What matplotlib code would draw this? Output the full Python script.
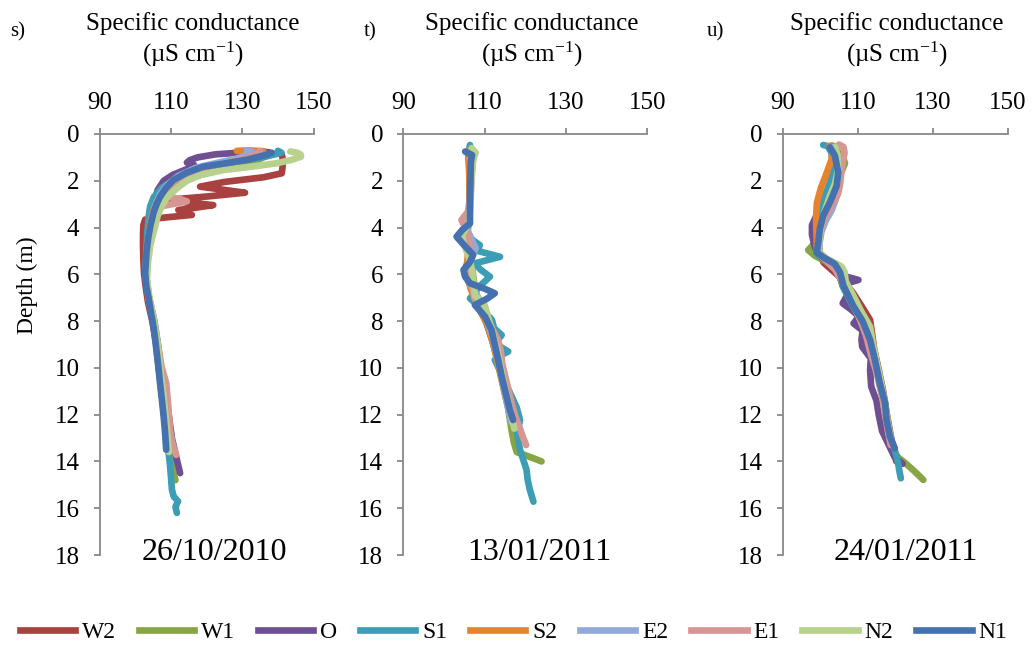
import matplotlib
matplotlib.use("Agg")
import matplotlib.pyplot as plt
from matplotlib.lines import Line2D

plt.rcParams['font.family'] = ['Liberation Serif', 'DejaVu Serif']
plt.rcParams['mathtext.fontset'] = 'custom'
plt.rcParams['mathtext.rm'] = 'Liberation Serif'
plt.rcParams['mathtext.it'] = 'Liberation Serif:italic'

# ---------------------------------------------------------------- labels
series_names = ["W2", "W1", "O", "S1", "S2", "E2", "E1", "N2", "N1"]
series_colors = ["#A8413F", "#88A545", "#6E4F92", "#3C9DB5", "#E5832E",
                 "#92AAD8", "#D79594", "#B8D18D", "#4572AF"]
dates = ["26/10/2010", "13/01/2011", "24/01/2011"]
panel_letters = ["s)", "t)", "u)"]
sc_ticks = [90, 110, 130, 150]
depth_ticks = [0, 2, 4, 6, 8, 10, 12, 14, 16, 18]

# ------------------------------------------- 26/10/2010 (depth m, SC uS/cm)
oct_W2 = ([0.75, 0.85, 1.0, 1.2, 1.45, 1.68, 1.85, 2.05, 2.25, 2.38, 2.51, 2.66, 2.82, 2.94, 3.04, 3.15, 3.25,
           3.36, 3.46, 3.56, 3.66, 3.9, 4.3, 4.8, 5.4, 6.0, 6.6, 7.2, 8.0, 9.0, 10.0, 11.0, 12.0, 13.0],
          [140.2, 141.0, 141.3, 141.4, 141.3, 141.1, 136.0, 125.0, 118.2, 124.5, 130.8, 121.0, 108.9, 115.5, 121.9,
           117.0, 112.1, 114.0, 115.9, 109.0, 102.8, 102.3, 102.2, 102.2, 102.3, 102.5, 103.0, 103.6, 104.8, 105.9,
           106.6, 107.4, 108.1, 108.8])
oct_W1 = ([0.75, 0.9, 1.1, 1.35, 1.6, 1.9, 2.3, 2.8, 3.3, 4.0, 5.0, 6.0, 7.0, 8.0, 9.0, 10.0, 11.0, 12.0, 13.0,
           13.8, 14.4, 14.8],
          [136.5, 137.5, 134.5, 129.5, 122.0, 114.5, 109.5, 106.6, 105.2, 104.1, 103.3, 103.0, 103.8, 105.2, 106.3,
           107.1, 107.9, 108.6, 109.3, 109.9, 110.6, 111.3])
oct_O = ([0.78, 0.8, 0.87, 1.0, 1.12, 1.22, 1.32, 1.5, 1.75, 2.0, 2.4, 3.0, 3.6, 4.4, 5.2, 6.0, 7.0, 8.0, 9.0,
          10.0, 11.0, 12.0, 13.0, 13.8, 14.5],
         [137.5, 129.0, 122.5, 117.5, 115.3, 114.5, 116.5, 114.5, 110.5, 108.0, 106.3, 105.2, 104.4, 103.7, 103.2,
          103.0, 103.8, 105.0, 106.0, 107.0, 108.4, 109.4, 110.3, 111.5, 112.6])
oct_S1 = ([0.72, 0.8, 0.95, 1.15, 1.4, 1.65, 1.95, 2.3, 2.7, 3.1, 3.5, 4.2, 5.0, 6.0, 7.0, 8.0, 9.0, 10.0, 11.0,
           12.0, 13.0, 13.5, 14.2, 14.8, 15.2, 15.5, 15.7, 15.95, 16.2],
          [140.0, 141.0, 137.0, 130.0, 121.0, 115.0, 111.0, 107.5, 105.2, 104.2, 103.8, 103.4, 103.1, 102.9, 103.9,
           105.4, 106.4, 107.1, 107.8, 108.5, 109.0, 109.3, 109.8, 110.1, 110.3, 110.8, 112.0, 111.3, 111.7])
oct_S2 = ([0.72, 0.7, 0.74, 0.85, 1.0, 1.2, 1.45, 1.7, 2.0, 2.4, 2.8, 3.3, 4.0, 5.0, 6.0, 7.0, 8.0, 9.0, 10.0,
           11.0, 12.0, 13.0],
          [128.5, 132.0, 136.0, 135.0, 132.5, 128.5, 123.5, 117.5, 111.8, 108.2, 106.3, 105.0, 104.0, 103.2, 102.9,
           103.7, 105.0, 106.1, 106.8, 107.6, 108.3, 108.9])
oct_E2 = ([0.7, 0.78, 0.9, 1.05, 1.25, 1.45, 1.8, 2.2, 2.6, 3.0, 3.5, 4.0, 5.0, 6.0, 7.0, 8.0, 9.0, 10.0, 11.0,
           12.0, 13.0],
          [131.3, 133.0, 131.5, 128.5, 122.5, 117.0, 112.0, 108.8, 106.9, 105.8, 104.8, 104.1, 103.2, 102.9, 103.8,
           105.1, 106.2, 106.9, 107.7, 108.4, 109.0])
oct_E1 = ([0.72, 0.85, 1.05, 1.3, 1.6, 2.0, 2.4, 2.65, 2.78, 2.88, 2.98, 3.1, 3.3, 3.7, 4.3, 5.0, 6.0, 7.0, 8.0,
           9.0, 9.95, 10.65, 11.5, 12.3, 12.8, 13.3, 13.72],
          [135.0, 134.5, 130.5, 124.5, 117.5, 112.3, 109.2, 108.0, 112.5, 114.5, 111.0, 107.0, 105.6, 104.6, 103.8,
           103.3, 103.0, 103.9, 105.3, 106.4, 107.4, 108.7, 109.2, 109.6, 109.9, 110.6, 111.5])
oct_N2 = ([0.75, 0.8, 0.88, 0.97, 1.1, 1.25, 1.4, 1.54, 1.75, 2.0, 2.32, 2.7, 3.1, 3.5, 3.96, 4.4, 4.8, 5.5, 6.2,
           7.0, 8.0, 9.0, 10.0, 11.0, 12.0, 13.0, 13.6],
          [143.5, 145.4, 146.4, 146.5, 144.0, 139.7, 132.5, 124.8, 118.5, 114.5, 111.7, 109.0, 107.4, 106.3, 105.6,
           104.8, 104.2, 103.6, 103.3, 104.0, 105.3, 106.3, 107.0, 107.8, 108.5, 109.1, 109.5])
oct_N1 = ([0.8, 0.88, 0.98, 1.1, 1.25, 1.4, 1.65, 1.97, 2.3, 2.68, 3.0, 3.39, 3.9, 4.4, 5.0, 5.95, 6.5, 6.96, 7.6,
           8.2, 8.52, 9.3, 9.95, 10.7, 11.37, 12.1, 12.8, 13.5],
          [138.3, 137.0, 134.5, 131.3, 125.5, 119.0, 114.5, 110.7, 108.7, 107.0, 106.0, 105.1, 104.3, 103.7, 103.2,
           102.8, 103.1, 103.7, 104.4, 105.1, 105.4, 106.0, 106.5, 107.0, 107.5, 108.0, 108.4, 108.7])

# ------------------------------------------------------------ 13/01/2011
j13_W2 = ([0.7, 1.2, 2.0, 3.0, 3.8, 4.3, 4.9, 5.5, 6.1, 6.7, 7.3, 8.0, 8.8, 9.6, 10.5, 11.4, 12.2],
          [106.0, 106.4, 106.5, 106.3, 105.8, 104.0, 105.8, 106.2, 105.6, 107.0, 108.3, 110.3, 111.8, 113.1, 114.4,
           115.6, 116.7])
j13_W1 = ([0.75, 1.5, 2.5, 3.5, 4.3, 5.0, 5.8, 6.5, 7.2, 8.0, 9.0, 10.0, 11.0, 11.5, 12.1, 12.65, 13.2, 13.6, 13.7,
           13.85, 14.0],
          [106.5, 106.3, 106.4, 106.3, 105.5, 106.5, 107.0, 107.5, 108.5, 110.5, 112.2, 113.6, 114.9, 115.6, 116.1,
           116.6, 117.2, 117.9, 119.5, 121.8, 124.0])
j13_O = ([0.7, 1.3, 2.2, 3.2, 4.0, 4.5, 5.1, 5.7, 6.3, 6.9, 7.5, 8.2, 9.0, 9.8, 10.6, 11.4, 12.0],
         [106.2, 106.5, 106.4, 106.2, 105.0, 104.2, 106.6, 105.4, 106.0, 108.0, 108.8, 110.9, 112.4, 113.4, 114.5,
          115.5, 116.3])
j13_S1 = ([0.47, 0.8, 1.5, 2.5, 3.5, 4.2, 4.5, 4.75, 5.0, 5.25, 5.4, 5.53, 5.8, 6.1, 6.5, 7.03, 7.5, 7.95, 8.3,
           8.6, 8.95, 9.3, 9.5, 9.66, 10.2, 10.9, 11.7, 12.23, 12.8, 13.5, 14.36, 14.8, 15.2, 15.72],
          [106.4, 106.0, 106.2, 106.3, 106.3, 105.8, 106.8, 108.8, 108.3, 113.8, 110.5, 107.6, 109.0, 111.3, 108.8,
           106.4, 109.5, 111.8, 112.3, 114.2, 112.5, 115.8, 113.5, 112.5, 114.0, 115.8, 117.9, 118.7, 118.0, 118.7,
           120.3, 120.6, 121.1, 122.0])
j13_S2 = ([0.7, 1.5, 2.5, 3.5, 4.2, 5.0, 5.8, 6.6, 7.4, 8.2, 9.0, 10.0, 11.0, 12.0],
          [106.0, 106.2, 106.3, 106.1, 104.5, 106.0, 105.5, 106.5, 108.5, 110.8, 112.2, 113.5, 114.8, 116.2])
j13_E2 = ([0.8, 1.5, 2.5, 3.5, 4.0, 4.4, 4.89, 5.3, 5.8, 6.4, 7.0, 7.8, 8.6, 9.5, 10.5, 11.5, 12.3],
          [106.5, 106.6, 106.5, 106.3, 105.5, 106.5, 107.8, 106.5, 105.5, 106.3, 108.5, 110.2, 111.8, 113.1, 114.3,
           115.5, 116.5])
j13_E1 = ([0.8, 1.0, 1.5, 2.5, 3.3, 3.68, 4.1, 4.6, 5.2, 5.8, 6.4, 7.0, 7.6, 8.2, 8.8, 9.3, 9.8, 10.6, 11.5, 12.1,
           12.6, 13.0, 13.3],
          [107.5, 107.2, 106.9, 106.6, 106.0, 104.3, 105.5, 106.2, 106.5, 106.4, 106.8, 107.5, 109.5, 111.5, 113.3,
           114.0, 114.3, 115.4, 116.6, 117.6, 118.7, 119.5, 120.2])
j13_N2 = ([0.6, 0.8, 1.1, 2.0, 3.0, 3.8, 4.3, 4.67, 5.2, 5.81, 6.4, 6.9, 7.3, 7.8, 8.5, 9.3, 10.0, 11.0, 12.0, 12.6],
          [106.8, 107.8, 107.2, 106.7, 106.5, 106.2, 104.5, 104.8, 106.0, 106.9, 107.3, 107.6, 110.0, 110.8, 112.0,
           113.2, 114.0, 115.2, 116.5, 117.3])
j13_N1 = ([0.75, 0.9, 1.2, 2.0, 3.0, 3.82, 4.1, 4.39, 4.8, 5.17, 5.5, 5.81, 6.1, 6.38, 6.6, 6.81, 7.05, 7.31, 7.81,
           8.38, 9.09, 9.8, 10.37, 11.23, 11.8, 12.23],
          [105.2, 106.9, 106.6, 106.5, 106.4, 106.4, 104.5, 103.1, 105.2, 107.2, 106.3, 104.8, 105.2, 106.4, 109.8,
           112.5, 110.5, 107.6, 110.1, 111.7, 112.6, 113.5, 114.2, 115.4, 116.2, 117.0])

# ------------------------------------------------------------ 24/01/2011
j24_W2 = ([0.5, 0.8, 1.3, 1.9, 2.5, 3.1, 3.7, 4.3, 4.8, 5.2, 5.5, 5.8, 6.2, 6.8, 7.4, 7.95, 8.5, 9.2, 10.0, 11.0,
           12.0, 12.8, 13.5, 14.0],
          [103.1, 104.5, 105.2, 104.8, 103.2, 101.4, 100.2, 99.7, 99.6, 100.1, 100.9, 103.0, 105.8, 108.8, 111.2,
           113.3, 113.8, 114.4, 115.5, 116.8, 117.8, 118.7, 119.5, 120.3])
j24_W1 = ([0.5, 0.8, 1.1, 1.25, 1.5, 2.0, 2.6, 3.2, 3.8, 4.4, 4.8, 4.96, 5.2, 5.5, 5.9, 6.5, 7.3, 8.1, 8.9, 9.7,
           10.6, 11.5, 12.3, 13.0, 13.5, 13.8, 14.07, 14.4, 14.6, 14.79],
          [103.5, 105.0, 106.3, 106.6, 106.0, 104.5, 102.5, 101.0, 100.0, 99.2, 97.8, 96.8, 98.5, 102.0, 104.8,
           106.0, 108.6, 111.2, 113.0, 114.4, 115.7, 117.0, 117.8, 118.7, 119.6, 120.6, 122.7, 125.0, 126.3, 127.5])
j24_O = ([0.55, 0.9, 1.4, 2.0, 2.6, 3.2, 3.9, 4.3, 4.8, 5.15, 5.5, 5.9, 6.1, 6.24, 6.4, 6.8, 7.24, 7.5, 7.8, 8.1,
          8.4, 8.8, 9.1, 9.6, 10.1, 10.8, 11.4, 12.0, 12.7, 13.4, 13.8, 14.1],
         [103.0, 103.5, 103.8, 103.2, 101.5, 99.8, 97.8, 97.8, 98.5, 99.5, 102.0, 104.5, 107.0, 110.2, 106.8, 107.5,
          106.0, 108.2, 110.3, 108.9, 111.3, 111.0, 111.2, 113.5, 113.3, 113.6, 115.0, 115.6, 116.5, 118.6, 119.8,
          122.0])
j24_S1 = ([0.47, 0.52, 0.8, 1.3, 1.9, 2.5, 3.1, 3.7, 4.3, 4.8, 5.1, 5.35, 5.6, 5.95, 6.5, 7.3, 8.0, 8.8, 9.6,
           10.6, 11.5, 12.2, 12.9, 13.44, 13.8, 14.1, 14.4, 14.72],
          [100.8, 102.0, 103.0, 103.4, 103.0, 101.6, 100.3, 99.6, 99.3, 99.0, 99.0, 101.2, 103.6, 105.0, 106.0,
           108.5, 111.0, 112.9, 114.4, 115.8, 117.1, 117.6, 118.6, 119.7, 120.4, 120.8, 121.1, 121.5])
j24_S2 = ([0.5, 0.7, 1.1, 1.68, 2.3, 2.96, 3.6, 4.2, 4.8, 5.1, 5.4, 5.8, 6.3, 7.0, 7.8, 8.6, 9.5, 10.5, 11.5, 12.5],
          [102.5, 103.3, 103.0, 101.7, 100.2, 99.1, 98.9, 99.0, 99.2, 99.6, 101.5, 104.2, 105.8, 107.8, 110.3, 112.5,
           114.2, 115.7, 116.9, 118.0])
j24_E2 = ([0.55, 0.9, 1.5, 2.1, 2.68, 3.25, 3.7, 4.2, 4.7, 5.1, 5.4, 5.8, 6.3, 7.0, 7.8, 8.6, 9.4, 10.3, 11.2,
           12.1, 12.8],
          [103.5, 104.5, 105.3, 105.3, 104.4, 103.1, 101.5, 100.3, 99.8, 99.8, 101.8, 104.5, 106.0, 108.0, 110.8,
           112.6, 114.2, 115.6, 116.8, 117.6, 118.3])
j24_E1 = ([0.45, 0.55, 0.8, 1.2, 1.7, 2.2, 2.54, 3.0, 3.5, 4.1, 4.7, 5.1, 5.4, 5.8, 6.3, 7.0, 7.8, 8.6, 9.4, 10.3,
           11.2, 12.1, 12.9, 13.3],
          [105.0, 106.2, 106.5, 106.0, 105.6, 105.2, 104.8, 103.2, 101.5, 100.2, 99.6, 99.7, 101.5, 104.0, 105.8,
           107.8, 110.3, 112.2, 113.5, 115.2, 116.5, 117.4, 118.3, 118.8])
j24_N2 = ([0.55, 0.9, 1.5, 2.1, 2.7, 3.3, 3.9, 4.5, 5.0, 5.3, 5.67, 5.9, 6.3, 6.9, 7.6, 8.24, 8.9, 9.7, 10.6, 11.5,
           12.3, 13.0],
          [104.0, 104.6, 104.8, 104.0, 102.5, 101.2, 100.3, 99.8, 99.4, 101.5, 105.7, 106.5, 106.8, 108.8, 111.0,
           113.3, 114.0, 115.0, 116.2, 117.3, 118.0, 118.8])
j24_N1 = ([0.57, 0.92, 1.64, 2.21, 2.92, 3.49, 4.06, 4.63, 5.06, 5.27, 5.56, 5.92, 6.49, 7.35, 8.0, 8.8, 9.66,
           10.66, 11.5, 12.23, 12.94, 13.44],
          [102.6, 103.9, 104.8, 104.4, 102.6, 100.8, 99.9, 99.5, 99.1, 100.8, 103.9, 105.3, 106.2, 108.8, 111.3,
           113.3, 114.6, 115.9, 117.3, 117.7, 118.6, 119.9])

panels = [
    [oct_W2, oct_W1, oct_O, oct_S1, oct_S2, oct_E2, oct_E1, oct_N2, oct_N1],
    [j13_W2, j13_W1, j13_O, j13_S1, j13_S2, j13_E2, j13_E1, j13_N2, j13_N1],
    [j24_W2, j24_W1, j24_O, j24_S1, j24_S2, j24_E2, j24_E1, j24_N2, j24_N1],
]

# ---------------------------------------------------------------- layout
W, H = 1034, 646
fig = plt.figure(figsize=(W / 100, H / 100), dpi=100)
axes_px = [(99.5, 313.5), (403.3, 647.3), (782.7, 1007.7)]   # left/right px
top_px, bottom_px = 134, 555
title_cx = [193, 532, 897]
date_cx = [214, 539, 906]
letter_x = [18, 370, 715]
axis_grey = "#888888"
LW = 4.8

for k, ((x0, x1), profiles) in enumerate(zip(axes_px, panels)):
    ax = fig.add_axes([x0 / W, 1 - bottom_px / H, (x1 - x0) / W, (bottom_px - top_px) / H])
    for (depth, sc), color in zip(profiles, series_colors):
        ax.plot(sc, depth, color=color, lw=LW, solid_capstyle='round', solid_joinstyle='round')
    ax.set_xlim(90, 150)
    ax.set_ylim(18, 0)
    ax.set_xticks(sc_ticks)
    ax.set_yticks(depth_ticks)
    ax.xaxis.tick_top()
    for side in ("right", "bottom"):
        ax.spines[side].set_visible(False)
    for side in ("left", "top"):
        ax.spines[side].set_color(axis_grey)
        ax.spines[side].set_linewidth(1.3)
    ax.tick_params(axis='both', colors=axis_grey, labelcolor='black', labelsize=18,
                   length=4.5, width=1.3, pad=10)
    ax.patch.set_alpha(0)

    fig.text(title_cx[k] / W, 1 - 30 / H, "Specific conductance", ha='center', va='baseline', fontsize=18)
    fig.text(title_cx[k] / W, 1 - 62 / H, r"(µS cm$^{\mathregular{-1}}$)", ha='center', va='baseline',
             fontsize=18)
    fig.text(letter_x[k] / W, 1 - 36 / H, panel_letters[k], ha='center', va='baseline', fontsize=15)
    fig.text(date_cx[k] / W, 1 - 560 / H, dates[k], ha='center', va='baseline', fontsize=23)

fig.text(27 / W, 1 - 285 / H, "Depth (m)", rotation=90, ha='center', va='center', fontsize=17)

handles = [Line2D([], [], color=c, lw=LW) for c in series_colors]
fig.legend(handles, series_names, loc='center', bbox_to_anchor=(513.5 / W, 1 - 632 / H), ncol=9,
           frameon=False, fontsize=17, handlelength=2.35, handletextpad=0.3, columnspacing=0.95,
           borderpad=0, borderaxespad=0)

fig.savefig("out.png", dpi=100)
